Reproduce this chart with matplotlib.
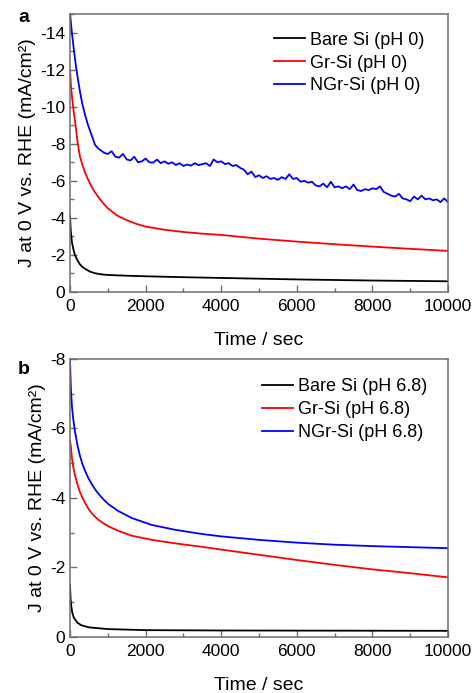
import numpy as np
import matplotlib
matplotlib.use("Agg")
import matplotlib.pyplot as plt
from matplotlib.ticker import MultipleLocator

plt.rcParams['font.family'] = ['Liberation Sans', 'DejaVu Sans']
plt.rcParams['axes.unicode_minus'] = False

# ── Panel a: pH 0 (current magnitudes, mA/cm2) ─────────────
bare_a_t = [0, 20, 50, 90, 130, 200, 260, 330, 400, 530, 650, 800, 1000,
            1500, 2000, 3000, 4000, 5000, 6000, 7000, 8000, 9000, 10000]
bare_a = [4.1, 3.3, 2.7, 2.3, 2.0, 1.7, 1.5, 1.35, 1.25, 1.1, 1.02, 0.96, 0.92,
          0.88, 0.85, 0.8, 0.76, 0.72, 0.68, 0.65, 0.62, 0.6, 0.58]

gr_a_t = [0, 15, 30, 60, 100, 132, 170, 200, 238, 265, 330, 397, 460, 529,
          600, 661, 730, 794, 900, 1000, 1250, 1500, 1750, 2000, 2500, 3000,
          3500, 4000, 5000, 6000, 7000, 8000, 9000, 10000]
gr_a = [12.0, 11.5, 11.0, 10.4, 9.7, 9.25, 8.6, 8.1, 7.6, 7.3, 6.85, 6.45,
        6.15, 5.85, 5.58, 5.38, 5.18, 5.0, 4.74, 4.52, 4.12, 3.88, 3.68, 3.53,
        3.36, 3.24, 3.15, 3.08, 2.88, 2.72, 2.58, 2.45, 2.33, 2.22]

ngr_a_t_early = [0, 25, 50, 100, 150, 200, 265, 330, 400, 470, 530, 600,
                 660, 730, 800, 870, 940]
ngr_a_early = [15.1, 14.5, 14.0, 13.1, 12.3, 11.6, 10.8, 10.1, 9.55, 9.05,
               8.7, 8.3, 7.95, 7.78, 7.66, 7.56, 7.48]
# 1000 .. 10000 s, every 100 s
ngr_a_late = [7.45, 7.6, 7.3, 7.25, 7.45, 7.15, 7.1, 7.3, 7.0, 7.05,
              7.2, 7.0, 6.98, 7.15, 6.95, 7.05, 6.92, 7.0, 6.85, 6.95,
              6.8, 6.88, 6.82, 6.95, 6.85, 6.9, 6.95, 6.8, 7.15, 7.0,
              7.05, 6.9, 6.95, 6.8, 6.85, 6.7, 6.6, 6.35, 6.5, 6.2,
              6.3, 6.15, 6.25, 6.1, 6.15, 6.05, 6.2, 6.1, 6.35, 6.1,
              6.15, 5.95, 6.0, 5.9, 5.95, 5.75, 5.7, 5.85, 5.65, 5.95,
              5.65, 5.7, 5.6, 5.7, 5.55, 5.8, 5.5, 5.45, 5.55, 5.5,
              5.6, 5.55, 5.7, 5.4, 5.3, 5.2, 5.15, 5.3, 5.05, 5.0,
              4.9, 5.15, 5.0, 5.2, 5.0, 5.05, 4.95, 5.0, 4.85, 5.05,
              4.85]
ngr_a_t = np.concatenate([ngr_a_t_early, np.arange(1000, 10001, 100)])
ngr_a = np.concatenate([ngr_a_early, ngr_a_late])

# ── Panel b: pH 6.8 ────────────────────────────────────────
bare_b_t = [0, 15, 30, 60, 100, 200, 300, 500, 1000, 2000, 4000, 10000]
bare_b = [1.5, 1.1, 0.9, 0.7, 0.55, 0.4, 0.33, 0.27, 0.22, 0.19, 0.18, 0.17]

gr_b_t = [0, 20, 50, 88, 132, 200, 265, 330, 397, 480, 573, 660, 750, 880,
          1014, 1279, 1632, 2161, 2778, 3484, 4000, 5000, 6000, 7000, 8000,
          9000, 10000]
gr_b = [5.65, 5.5, 5.15, 4.88, 4.65, 4.38, 4.16, 4.0, 3.86, 3.7, 3.56, 3.46,
        3.37, 3.27, 3.18, 3.05, 2.91, 2.79, 2.69, 2.59, 2.51, 2.36, 2.21, 2.07,
        1.94, 1.83, 1.71]

ngr_b_t = [0, 10, 25, 50, 88, 132, 200, 265, 330, 397, 480, 573, 660, 750,
           880, 1014, 1279, 1632, 2161, 2778, 3484, 4000, 5000, 6000, 7000,
           8000, 9000, 10000]
ngr_b = [8.0, 7.6, 7.1, 6.65, 6.25, 5.9, 5.5, 5.2, 4.97, 4.78, 4.58, 4.4,
         4.25, 4.12, 3.96, 3.82, 3.62, 3.42, 3.22, 3.08, 2.96, 2.89, 2.79,
         2.71, 2.65, 2.61, 2.58, 2.55]

LABELS_A = ['Bare Si (pH 0)', 'Gr-Si (pH 0)', 'NGr-Si (pH 0)']
LABELS_B = ['Bare Si (pH 6.8)', 'Gr-Si (pH 6.8)', 'NGr-Si (pH 6.8)']
COLORS = ['#000000', '#ff0000', '#0000ff']
SPINE = '#6e6e6e'


def style_axes(ax, ymax, ystep):
    ax.set_xlim(0, 10000)
    ax.set_ylim(0, -ymax)
    ax.xaxis.set_major_locator(MultipleLocator(2000))
    ax.xaxis.set_minor_locator(MultipleLocator(1000))
    ax.yaxis.set_major_locator(MultipleLocator(ystep))
    ax.yaxis.set_minor_locator(MultipleLocator(ystep / 2))
    ax.tick_params(which='both', direction='in', color=SPINE, labelsize=12.5,
                   top=False, right=False)
    ax.tick_params(which='major', length=5, width=1)
    ax.tick_params(which='minor', length=3, width=1)
    ax.tick_params(axis='x', pad=5)
    for s in ax.spines.values():
        s.set_color(SPINE)
        s.set_linewidth(1.1)
    ax.set_xlabel('Time / sec', fontsize=14, labelpad=13)
    ax.set_ylabel('J at 0 V vs. RHE (mA/cm²)', fontsize=14, labelpad=3)


fig = plt.figure(figsize=(4.74, 6.93), dpi=100)
ax1 = fig.add_axes([0.1477, 0.5786, 0.7975, 0.4012])
ax2 = fig.add_axes([0.1477, 0.0812, 0.7975, 0.4008])

for t, j, c, lab in zip([bare_a_t, gr_a_t, ngr_a_t], [bare_a, gr_a, ngr_a],
                        COLORS, LABELS_A):
    ax1.plot(t, -np.asarray(j), color=c, lw=1.3, label=lab)
for t, j, c, lab in zip([bare_b_t, gr_b_t, ngr_b_t], [bare_b, gr_b, ngr_b],
                        COLORS, LABELS_B):
    ax2.plot(t, -np.asarray(j), color=c, lw=1.3, label=lab)

style_axes(ax1, 15, 2)
style_axes(ax2, 8, 2)

for ax, anchor in [(ax1, (0.54, 0.936)), (ax2, (0.508, 0.93))]:
    ax.legend(loc='upper left', bbox_to_anchor=anchor, frameon=False,
              fontsize=13, borderpad=0, borderaxespad=0, handlelength=1.7,
              handletextpad=0.3, labelspacing=0.32)

fig.text(18 / 474, 1 - 18 / 693, 'a', fontsize=14, fontweight='bold',
         ha='left', va='center')
fig.text(18 / 474, 1 - 370 / 693, 'b', fontsize=14, fontweight='bold',
         ha='left', va='center')

fig.savefig('out.png', dpi=100, facecolor='white')
